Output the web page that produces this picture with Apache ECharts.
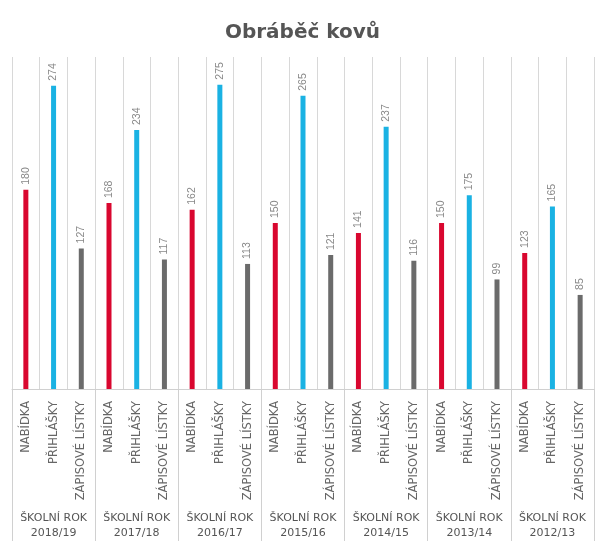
<!DOCTYPE html>
<html>
<head>
<meta charset="utf-8">
<script src="https://cdn.jsdelivr.net/npm/echarts@6/dist/echarts.min.js"></script>
<style>
html,body{margin:0;padding:0;background:#fff;}
#chart{width:605px;height:553px;}
</style>
</head>
<body>
<div id="chart"></div>
<script>
const years = ['2018/19','2017/18','2016/17','2015/16','2014/15','2013/14','2012/13'];
const kinds = ['NABÍDKA','PŘIHLÁŠKY','ZÁPISOVÉ LÍSTKY'];
const nabidka = [180,168,162,150,141,150,123];
const prihlasky = [274,234,275,265,237,175,165];
const zapisove = [127,117,113,121,116,99,85];
const colors = ['#d9072f','#1ab2e3','#6b6b6b'];

const cats = [];
const data = [];
const series3 = [nabidka, prihlasky, zapisove];
years.forEach((y,i)=>{
  kinds.forEach((k,j)=>{
    cats.push(k);
    data.push({value: series3[j][i], itemStyle:{color: colors[j]}});
  });
});

const chart = echarts.init(document.getElementById('chart'));
chart.setOption({
  animation:false,
  backgroundColor:'#fff',
  title:{
    text:'Obráběč kovů',
    left:'center',
    top:18,
    textStyle:{fontFamily:'DejaVu Sans', fontWeight:'bold', fontSize:20, color:'#555'}
  },
  grid:{left:12,right:11,top:57,bottom:164,containLabel:false},
  xAxis:[{
    type:'category',
    data:cats,
    position:'bottom',
    axisLine:{show:true,lineStyle:{color:'#d0d0d0'}},
    axisTick:{show:false},
    splitLine:{show:true,lineStyle:{color:'#d8d8d8'}},
    axisLabel:{rotate:90,interval:0,margin:12,fontFamily:'DejaVu Sans',fontSize:11.5,color:'#666'}
  },{
    type:'category',
    data:years.map(y=>'ŠKOLNÍ ROK\n'+y),
    position:'bottom',
    offset:152,
    axisLine:{show:false},
    axisTick:{show:true,inside:true,length:152,lineStyle:{color:'#d0d0d0'}},
    splitLine:{show:false},
    axisLabel:{inside:true,margin:0,interval:0,fontFamily:'DejaVu Sans',fontSize:11,lineHeight:15,color:'#555'}
  }],
  yAxis:{type:'value',min:0,max:300,show:false,splitLine:{show:false}},
  series:[{
    type:'bar',
    xAxisIndex:0,
    data:data,
    barWidth:5,
    label:{show:true,position:'top',rotate:90,align:'left',verticalAlign:'middle',distance:5,
      fontFamily:'Liberation Sans, Arial',fontSize:10.5,color:'#888'}
  }]
});
</script>
</body>
</html>
